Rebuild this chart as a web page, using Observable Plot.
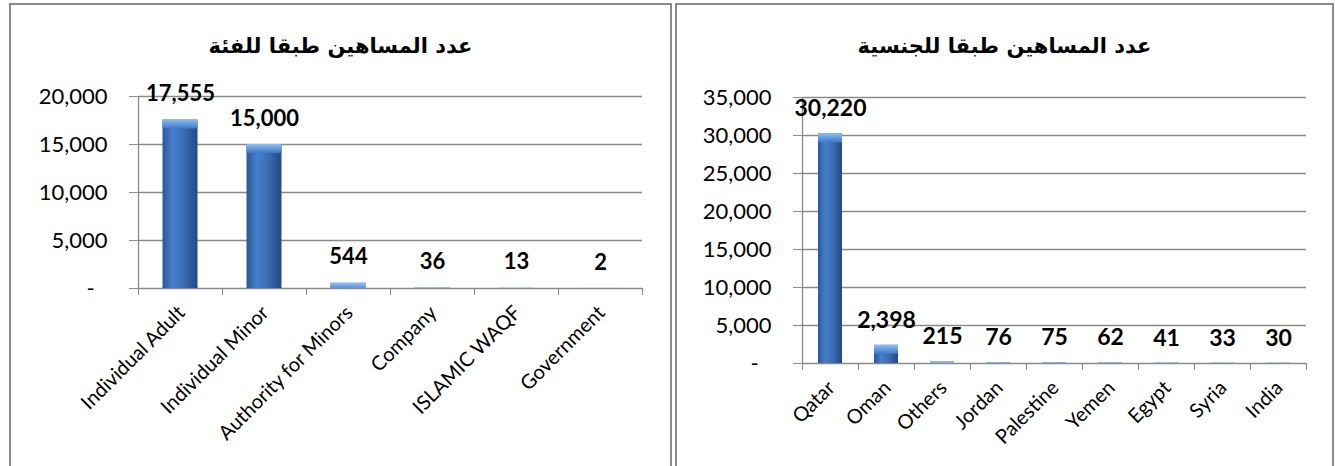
<!DOCTYPE html>
<html>
<head>
<meta charset="utf-8">
<script src="https://cdn.jsdelivr.net/npm/d3@7"></script>
<script src="https://cdn.jsdelivr.net/npm/@observablehq/plot@0.6"></script>
<style>
  html, body { margin: 0; padding: 0; background: #fff; }
  body { width: 1335px; height: 466px; position: relative; overflow: hidden; }
  .panel { position: absolute; box-sizing: border-box; border: 2px solid #8c8c8c; border-bottom: none; background: #fff; }
  .title { position: absolute; text-align: center; direction: rtl;
           font-family: "DejaVu Sans", sans-serif; font-weight: bold; font-size: 21px; color: #000; }
  .chart { position: absolute; }
</style>
</head>
<body>
<div class="panel" id="pl" style="left:9px; top:3px; width:663px; height:470px;"></div>
<div class="panel" id="pr" style="left:675px; top:3px; width:659px; height:470px;"></div>
<div class="title" id="tl" style="left:9px; width:663px; top:34px;"></div>
<div class="title" id="tr" style="left:675px; width:659px; top:34px;"></div>
<div class="chart" id="cl" style="left:11px; top:62px; width:659px; height:404px;"></div>
<div class="chart" id="cr" style="left:677px; top:62px; width:655px; height:404px;"></div>
<script>
// ---- data ----
const leftTitle = "عدد المساهين طبقا للفئة";
const leftCategories = ["Individual Adult", "Individual Minor", "Authority for Minors", "Company", "ISLAMIC WAQF", "Government"];
const leftValues = [17555, 15000, 544, 36, 13, 2];
const leftTicks = [0, 5000, 10000, 15000, 20000];

const rightTitle = "عدد المساهين طبقا للجنسية";
const rightCategories = ["Qatar", "Oman", "Others", "Jordan", "Palestine", "Yemen", "Egypt", "Syria", "India"];
const rightValues = [30220, 2398, 215, 76, 75, 62, 41, 33, 30];
const rightTicks = [0, 5000, 10000, 15000, 20000, 25000, 30000, 35000];

const fmt = d3.format(",");
const tickFmt = d => d === 0 ? "-\u2007" : fmt(d);

function makeChart(o) {
  const data = o.cats.map((c, i) => ({i, cat: c, value: o.vals[i]}));
  const n = o.cats.length;
  const grey = "#8a8a8a";
  const svg = Plot.plot({
    width: o.width,
    height: o.height,
    marginTop: o.mt, marginRight: o.mr, marginBottom: o.mb, marginLeft: o.ml,
    style: {fontFamily: "Lato, 'Open Sans', sans-serif", fontSize: "22px", color: "#000", background: "transparent"},
    x: {domain: [0, n], axis: null},
    y: {domain: [0, o.ticks[o.ticks.length - 1]], axis: null},
    marks: [
      Plot.ruleY(o.ticks, {stroke: grey, strokeWidth: 1.3}),
      Plot.ruleX([0], {stroke: grey, strokeWidth: 1.3}),
      Plot.axisY({ticks: o.ticks, tickFormat: tickFmt, label: null, tickSize: 9, tickPadding: 22, stroke: grey, fill: "#000", fontSize: 22}),
      Plot.axisX({ticks: d3.range(n + 1), tickFormat: () => "", label: null, tickSize: 7, stroke: grey}),
      Plot.rectY(data, {x1: d => d.i, x2: d => d.i + 1, y: "value", insetLeft: o.inset, insetRight: o.inset, fill: `url(#${o.id}-body)`}),
      Plot.rect(data, {x1: d => d.i, x2: d => d.i + 1, y1: "value", y2: "value", insetLeft: o.inset, insetRight: o.inset, insetBottom: -9, fill: `url(#${o.id}-cap)`, clip: true}),
      Plot.text(data, {x: d => d.i + 0.5, y: "value", text: d => fmt(d.value), dy: o.labelDy, fontWeight: "bold", fontSize: o.labelSize, fill: "#000"}),
      Plot.text(data, {x: d => d.i + 0.5, y: () => 0, text: "cat", rotate: -45, textAnchor: "end", lineAnchor: "middle", dy: 21, dx: 1, fontSize: o.xSize, fill: "#000"})
    ]
  });
  const defs = document.createElementNS("http://www.w3.org/2000/svg", "defs");
  defs.innerHTML = `
    <linearGradient id="${o.id}-body" x1="0" x2="1" y1="0" y2="0">
      <stop offset="0" stop-color="#2a5897"/>
      <stop offset="0.3" stop-color="#477fcc"/>
      <stop offset="0.6" stop-color="#3a6db6"/>
      <stop offset="1" stop-color="#224a85"/>
    </linearGradient>
    <linearGradient id="${o.id}-cap" x1="0" x2="0" y1="0" y2="1">
      <stop offset="0" stop-color="#8fc0f2"/>
      <stop offset="0.5" stop-color="#629ae0"/>
      <stop offset="1" stop-color="#4279c5"/>
    </linearGradient>`;
  svg.insertBefore(defs, svg.firstChild);
  return svg;
}

document.getElementById("tl").textContent = leftTitle;
document.getElementById("tr").textContent = rightTitle;

document.getElementById("cl").appendChild(makeChart({
  id: "gl", cats: leftCategories, vals: leftValues, ticks: leftTicks,
  width: 659, height: 404, mt: 34, mr: 28, mb: 178, ml: 127,
  inset: 24.5, labelSize: 22, labelDy: -26, xSize: 20
}));
document.getElementById("cr").appendChild(makeChart({
  id: "gr", cats: rightCategories, vals: rightValues, ticks: rightTicks,
  width: 655, height: 404, mt: 35, mr: 26, mb: 103, ml: 125,
  inset: 16, labelSize: 23, labelDy: -25, xSize: 20
}));
</script>
</body>
</html>
